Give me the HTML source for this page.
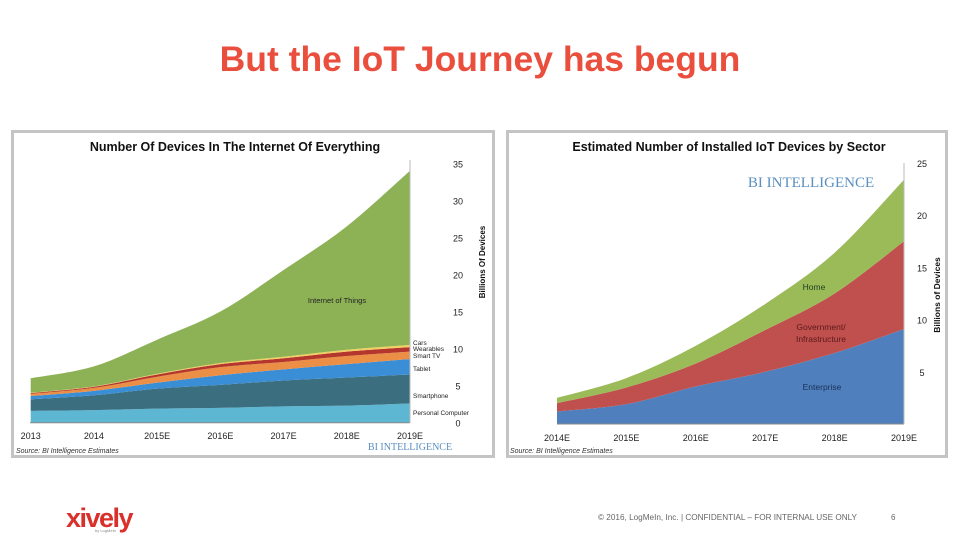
<!DOCTYPE html>
<html><head><meta charset="utf-8"><style>
body{margin:0;width:960px;height:540px;background:#fff;overflow:hidden;font-family:"Liberation Sans",sans-serif}
svg{position:absolute;left:0;top:0}
</style></head><body>
<svg width="960" height="540" id="s">
<text x="480" y="71" text-anchor="middle" font-size="35.5" font-weight="bold" fill="#ea4e3c">But the IoT Journey has begun</text>
<rect x="12.5" y="131.5" width="481" height="325" fill="#fff" stroke="#c4c4c4" stroke-width="3"/>
<rect x="507.5" y="131.5" width="439" height="325" fill="#fff" stroke="#c4c4c4" stroke-width="3"/>
<text x="235" y="151" text-anchor="middle" font-size="12.5" font-weight="bold" fill="#111">Number Of Devices In The Internet Of Everything</text>
<text x="729" y="151" text-anchor="middle" font-size="12.5" font-weight="bold" fill="#111">Estimated Number of Installed IoT Devices by Sector</text>
<g id="L"></g>
<g id="R"></g>
<text x="16" y="453" font-size="7" font-style="italic" fill="#333">Source: BI Intelligence Estimates</text>
<text x="510" y="453" font-size="7" font-style="italic" fill="#333">Source: BI Intelligence Estimates</text>
<text x="410" y="450" text-anchor="middle" font-size="10" font-family="Liberation Serif" fill="#5a8fc0">BI INTELLIGENCE</text>
<text x="811" y="187" text-anchor="middle" font-size="15" font-family="Liberation Serif" fill="#5a8fc0">BI INTELLIGENCE</text>
<text x="66" y="527" font-size="27" font-weight="bold" fill="#d9302b" letter-spacing="-1.5">xively</text>
<text x="95" y="532" font-size="4" fill="#888">by LogMeIn</text>
<text x="598" y="520" font-size="8.2" fill="#666">© 2016, LogMeIn, Inc. | CONFIDENTIAL – FOR INTERNAL USE ONLY</text>
<text x="891" y="520" font-size="8" fill="#666">6</text>
</svg>
<script>
const NS="http://www.w3.org/2000/svg";
// Left chart data
const leftYears=["2013","2014","2015E","2016E","2017E","2018E","2019E"];
const pcVals=[1.6,1.7,1.9,2.0,2.2,2.3,2.6];
const phoneVals=[1.55,2.0,2.7,3.1,3.5,3.8,3.9];
const tabletVals=[0.45,0.6,0.8,1.3,1.5,1.8,2.1];
const tvVals=[0.3,0.4,0.8,1.1,1.0,1.1,1.0];
const wearVals=[0.1,0.15,0.3,0.4,0.5,0.6,0.6];
const carVals=[0.05,0.05,0.1,0.15,0.2,0.25,0.3];
const iotVals=[1.95,2.7,4.6,6.95,11.7,16.65,23.5];
const leftTicks=[0,5,10,15,20,25,30,35];
// Right chart data
const rightYears=["2014E","2015E","2016E","2017E","2018E","2019E"];
const entVals=[1.2,1.9,3.6,5.0,6.8,9.1];
const govVals=[0.8,1.6,2.2,4.0,5.7,8.4];
const homeVals=[0.5,0.9,1.7,2.5,3.9,5.9];
const rightTicks=[5,10,15,20,25];

function mk(tag,attrs,parent){const e=document.createElementNS(NS,tag);for(const k in attrs)e.setAttribute(k,attrs[k]);parent.appendChild(e);return e;}
function curve(pts){let d="";for(let i=0;i<pts.length-1;i++){const p0=pts[Math.max(0,i-1)],p1=pts[i],p2=pts[i+1],p3=pts[Math.min(pts.length-1,i+2)];
const c1=[p1[0]+(p2[0]-p0[0])/6,p1[1]+(p2[1]-p0[1])/6],c2=[p2[0]-(p3[0]-p1[0])/6,p2[1]-(p3[1]-p1[1])/6];
d+=` C${c1[0]},${c1[1]} ${c2[0]},${c2[1]} ${p2[0]},${p2[1]}`;}return d;}
function stack(g,series,colors,names,xf,yf){let base=series[0].map(()=>0);
series.forEach((s,k)=>{const top=s.map((v,i)=>base[i]+v);
const up=top.map((v,i)=>[xf(i),yf(v)]);const dn=base.map((v,i)=>[xf(i),yf(v)]).reverse();
const d="M"+up[0][0]+","+up[0][1]+curve(up)+" L"+dn[0][0]+","+dn[0][1]+curve(dn)+"Z";
const p=mk("path",{d:d,fill:colors[k]},g);


base=top;});}

// Left
const L=document.getElementById("L");
const lx=i=>30.7+i*(410-30.7)/(leftYears.length-1), ly=v=>422.7-v*7.41;
stack(L,[pcVals,phoneVals,tabletVals,tvVals,wearVals,carVals,iotVals],["#5db7d2","#3b6f80","#3a8ed6","#eb8f47","#b5362c","#f1cf63","#8db255"],
["area-personal-computer","area-smartphone","area-tablet","area-smart-tv","area-wearables","area-cars","area-iot"],lx,ly);
let ax=mk("line",{x1:30,y1:422.7,x2:410,y2:422.7,stroke:"#888","stroke-width":1},L);

ax=mk("line",{x1:410,y1:160,x2:410,y2:423,stroke:"#bbb","stroke-width":1},L);

leftYears.forEach((y,i)=>{const t=mk("text",{x:lx(i),y:439,"text-anchor":"middle","font-size":9,fill:"#222"},L);t.textContent=y;
});
leftTicks.forEach(v=>{const t=mk("text",{x:458,y:ly(v)+4,"text-anchor":"middle","font-size":9,fill:"#222"},L);t.textContent=v;
});
let yt=mk("text",{transform:"translate(485,262) rotate(-90)","text-anchor":"middle","font-size":8,"font-weight":"bold",fill:"#111"},L);yt.textContent="Billions Of Devices";

[["Internet of Things",337,303],["Cars",413,345],["Wearables",413,351],["Smart TV",413,358],["Tablet",413,371],["Smartphone",413,398],["Personal Computer",413,415]].forEach(a=>{
const t=mk("text",{x:a[1],y:a[2],"font-size":a[0]=="Internet of Things"?7.5:6.5,fill:"#222","text-anchor":a[0]=="Internet of Things"?"middle":"start"},L);t.textContent=a[0];
});

// Right
const R=document.getElementById("R");
const rx=i=>557+i*(904-557)/(rightYears.length-1), ry=v=>424-v*10.44;
stack(R,[entVals,govVals,homeVals],["#4f80bd","#c0504d","#9bbb59"],["area-enterprise","area-government","area-home"],rx,ry);
ax=mk("line",{x1:557,y1:424,x2:904,y2:424,stroke:"#888","stroke-width":1},R);

ax=mk("line",{x1:904,y1:163,x2:904,y2:424,stroke:"#bbb","stroke-width":1},R);

rightYears.forEach((y,i)=>{const t=mk("text",{x:rx(i),y:441,"text-anchor":"middle","font-size":9,fill:"#222"},R);t.textContent=y;
});
rightTicks.forEach(v=>{const t=mk("text",{x:922,y:ry(v)+4,"text-anchor":"middle","font-size":9,fill:"#222"},R);t.textContent=v;
});
yt=mk("text",{transform:"translate(940,295) rotate(-90)","text-anchor":"middle","font-size":8.5,"font-weight":"bold",fill:"#111"},R);yt.textContent="Billions of Devices";

[["Home",814,290,"#1e3d1e"],["Government/",821,330,"#5a1a1a"],["Infrastructure",821,342,"#5a1a1a"],["Enterprise",822,390,"#1c2e55"]].forEach(a=>{
const t=mk("text",{x:a[1],y:a[2],"font-size":8.5,fill:a[3],"text-anchor":"middle"},R);t.textContent=a[0];
});
</script>
</body></html>
